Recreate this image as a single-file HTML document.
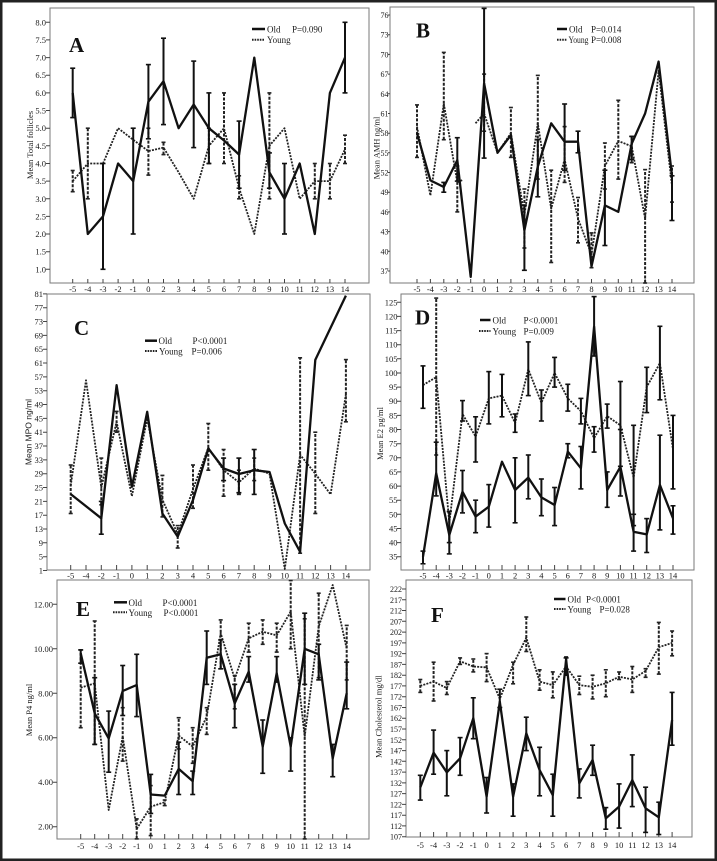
<!DOCTYPE html>
<html><head><meta charset="utf-8"><style>
html,body{margin:0;padding:0;background:#fff}
svg{display:block}
text{font-family:"Liberation Serif",serif;fill:#1a1a1a}
.t{font-size:8.5px}
.ya{text-anchor:end}
.xa{text-anchor:middle}
.lg{font-size:9px}
.L{font-size:21px;font-weight:bold;fill:#111}
.ti{font-size:8.5px;text-anchor:middle}
.fr{fill:none;stroke:#7a7a7a;stroke-width:1}
.tk{fill:none;stroke:#444;stroke-width:1}
.o{fill:none;stroke:#111;stroke-width:2.3;stroke-linejoin:round}
.y{fill:none;stroke:#222;stroke-width:1.8;stroke-dasharray:2 1.2;stroke-linejoin:round}
.oe{fill:none;stroke:#111;stroke-width:2;marker-start:url(#c);marker-mid:url(#c);marker-end:url(#c)}
.ye{fill:none;stroke:#222;stroke-width:2;stroke-dasharray:3 1.5;marker-start:url(#c2);marker-mid:url(#c2);marker-end:url(#c2)}
.ys{fill:none;stroke:#111;stroke-width:2;marker-start:url(#c);marker-mid:url(#c);marker-end:url(#c)}
</style></head><body>
<svg width="717" height="861" viewBox="0 0 717 861" xmlns="http://www.w3.org/2000/svg">
<defs>
<marker id="c" markerWidth="6" markerHeight="4" refX="3" refY="2" markerUnits="userSpaceOnUse" orient="0"><path d="M0.5,2H5.5" stroke="#111" stroke-width="1.6"/></marker>
<marker id="c2" markerWidth="6" markerHeight="4" refX="3" refY="2" markerUnits="userSpaceOnUse" orient="0"><path d="M1,2H5" stroke="#222" stroke-width="1.6"/></marker>
</defs>
<rect x="0" y="0" width="717" height="861" fill="#fff"/>
<rect x="1.25" y="1.25" width="714.5" height="858.5" fill="none" stroke="#222" stroke-width="2.5"/>

<!-- ================= PANEL A ================= -->
<rect class="fr" x="50" y="8" width="319" height="275"/>
<path class="tk" d="M46,22.3h4M46,39.9h4M46,57.6h4M46,75.2h4M46,92.9h4M46,110.5h4M46,128.2h4M46,145.8h4M46,163.5h4M46,181.1h4M46,198.8h4M46,216.4h4M46,234h4M46,251.7h4M46,269.3h4"/>
<path class="tk" d="M72.7,283v-4M87.8,283v-4M103,283v-4M118.1,283v-4M133.2,283v-4M148.4,283v-4M163.5,283v-4M178.6,283v-4M193.7,283v-4M208.9,283v-4M224,283v-4M239.1,283v-4M254.3,283v-4M269.4,283v-4M284.5,283v-4M299.7,283v-4M314.8,283v-4M329.9,283v-4M345,283v-4"/>
<g class="t ya">
<text x="46" y="25.3">8.0</text><text x="46" y="42.9">7.5</text><text x="46" y="60.6">7.0</text><text x="46" y="78.2">6.5</text><text x="46" y="95.9">6.0</text><text x="46" y="113.5">5.5</text><text x="46" y="131.2">5.0</text><text x="46" y="148.8">4.5</text><text x="46" y="166.5">4.0</text><text x="46" y="184.1">3.5</text><text x="46" y="201.8">3.0</text><text x="46" y="219.4">2.5</text><text x="46" y="237">2.0</text><text x="46" y="254.7">1.5</text><text x="46" y="272.3">1.0</text>
</g>
<g class="t xa">
<text x="72.7" y="292">-5</text><text x="87.8" y="292">-4</text><text x="103" y="292">-3</text><text x="118.1" y="292">-2</text><text x="133.2" y="292">-1</text><text x="148.4" y="292">0</text><text x="163.5" y="292">2</text><text x="178.6" y="292">3</text><text x="193.7" y="292">4</text><text x="208.9" y="292">5</text><text x="224" y="292">6</text><text x="239.1" y="292">7</text><text x="254.3" y="292">8</text><text x="269.4" y="292">9</text><text x="284.5" y="292">10</text><text x="299.7" y="292">11</text><text x="314.8" y="292">12</text><text x="329.9" y="292">13</text><text x="345" y="292">14</text>
</g>
<text class="ti" transform="translate(33,145) rotate(-90)">Mean Total follicles</text>
<text class="L" x="69" y="52">A</text>
<path d="M252,29H265" stroke="#111" stroke-width="2.5"/>
<path d="M252,39.7H265" stroke="#222" stroke-width="2" stroke-dasharray="1.6 1"/>
<text class="lg" x="267" y="32.5">Old</text><text class="lg" x="292" y="32.5">P=0.090</text>
<text class="lg" x="267" y="43">Young</text>
<path class="y" d="M72.7,181.1L87.8,163.5L103,163.5L118.1,128.2L133.2,139.8L148.4,151.1L163.5,147.6L178.6,172.3L193.7,198.8L208.9,145.8L224,128.2L239.1,188.2L254.3,234L269.4,145.8L284.5,128.2L299.7,198.8L314.8,181.1L329.9,181.1L345,149.3"/>
<path class="ye" d="M72.7,191.7V170.5M87.8,198.8V128.2M148.4,175.1V128.2M163.5,154.6V142.3M208.9,163.5V128.2M224,163.5V92.9M239.1,198.8V175.8M269.4,198.8V92.9M314.8,198.8V163.5M329.9,198.8V163.5M345,163.5V135.2"/>
<path class="o" d="M72.7,92.9L87.8,234L103,216.4L118.1,163.5L133.2,181.1L148.4,101.7L163.5,81.2L178.6,128.2L193.7,104.5L208.9,128.2L224,140.5L239.1,154.6L254.3,57.6L269.4,172.3L284.5,198.8L299.7,163.5L314.8,234L329.9,92.9L345,57.6"/>
<path class="oe" d="M72.7,117.6V68.2M103,269.3V163.5M133.2,234V128.2M148.4,138.8V64.6M163.5,124.6V38.2M193.7,147.6V61.1M208.9,163.5V92.9M239.1,188.2V121.1M269.4,188.2V152.9M284.5,234V163.5M345,92.9V22.3"/>

<!-- ================= PANEL B ================= -->
<rect class="fr" x="390" y="7" width="304" height="276"/>
<path class="tk" d="M388,15h2M388,34.7h2M388,54.4h2M388,74.1h2M388,93.8h2M388,113.5h2M388,133.2h2M388,152.8h2M388,172.5h2M388,192.2h2M388,211.9h2M388,231.6h2M388,251.3h2M388,271h2"/>
<path class="tk" d="M417,283v-4M430.4,283v-4M443.8,283v-4M457.3,283v-4M470.7,283v-4M484.1,283v-4M497.5,283v-4M510.9,283v-4M524.4,283v-4M537.8,283v-4M551.2,283v-4M564.6,283v-4M578,283v-4M591.5,283v-4M604.9,283v-4M618.3,283v-4M631.7,283v-4M645.1,283v-4M658.6,283v-4M672,283v-4"/>
<g class="t ya" style="font-size:8px">
<text x="388.5" y="18">76</text><text x="388.5" y="37.7">73</text><text x="388.5" y="57.4">70</text><text x="388.5" y="77.1">67</text><text x="388.5" y="96.8">64</text><text x="388.5" y="116.5">61</text><text x="388.5" y="136.2">58</text><text x="388.5" y="155.8">55</text><text x="388.5" y="175.5">52</text><text x="388.5" y="195.2">49</text><text x="388.5" y="214.9">46</text><text x="388.5" y="234.6">43</text><text x="388.5" y="254.3">40</text><text x="388.5" y="274">37</text>
</g>
<g class="t xa">
<text x="417" y="292">-5</text><text x="430.4" y="292">-4</text><text x="443.8" y="292">-3</text><text x="457.3" y="292">-2</text><text x="470.7" y="292">-1</text><text x="484.1" y="292">0</text><text x="497.5" y="292">1</text><text x="510.9" y="292">2</text><text x="524.4" y="292">3</text><text x="537.8" y="292">4</text><text x="551.2" y="292">5</text><text x="564.6" y="292">6</text><text x="578" y="292">7</text><text x="591.5" y="292">8</text><text x="604.9" y="292">9</text><text x="618.3" y="292">10</text><text x="631.7" y="292">11</text><text x="645.1" y="292">12</text><text x="658.6" y="292">13</text><text x="672" y="292">14</text>
</g>
<text class="ti" transform="translate(379.5,148) rotate(-90)">Mean AMH ng/ml</text>
<text class="L" x="416" y="37.5">B</text>
<path d="M557,29H567" stroke="#111" stroke-width="2.5"/>
<path d="M557,39.7H567" stroke="#222" stroke-width="2" stroke-dasharray="1.6 1"/>
<text class="lg" x="569" y="32.5">Old</text><text class="lg" x="591" y="32.5">P=0.014</text>
<text class="lg" x="568.5" y="43" textLength="20" lengthAdjust="spacingAndGlyphs">Young</text><text class="lg" x="591" y="43">P=0.008</text>
<path class="y" d="M417,126.6L430.4,195.5L443.8,103.6L457.3,182.4L462.5,180M475.5,123.3L484.1,113.5L497.5,152.8L510.9,133.2L524.4,215.2L537.8,123.3L551.2,208.6L564.6,159.4L578,218.5L591.5,254.6L604.9,166L618.3,141L631.7,146.3L645.1,218.5L658.6,70.8L672,185.7"/>
<path class="ye" d="M417,157.4V104.9M443.8,139.7V52.4M457.3,211.9V166M484.1,131.2V74.1M510.9,157.4V107.5M524.4,248V189M537.8,179.1V75.4M551.2,262.5V170.2M564.6,182.4V126.6M578,242.8V197.5M591.5,267.7V232.9M604.9,189V143M618.3,179.1V100.3M631.7,162.7V136.4M645.1,283V169.6M672,202.1V166"/>
<path class="o" d="M417,133.2L430.4,180.4L443.8,187L457.3,160.1L470.7,276.9L484.1,83.3L497.5,152.8L510.9,135.1L524.4,230.3L537.8,166.6L551.2,123.3L564.6,141.7L578,141.7L591.5,266.4L604.9,205.4L618.3,211.9L631.7,143.7L645.1,113.5L658.6,61.6L672,175.8"/>
<path class="oe" d="M443.8,192.2V182.4M457.3,181.1V137.7M484.1,158.1V8.4M524.4,270.3V205M537.8,196.8V139.7M564.6,170.2V104M578,152.8V131.2M604.9,245.5V170.2M631.7,159.4V136.4M672,220.5V175.8"/>

<!-- ================= PANEL C ================= -->
<rect class="fr" x="47" y="294" width="323" height="276"/>
<path class="tk" d="M43,293.9h4M43,307.7h4M43,321.5h4M43,335.4h4M43,349.2h4M43,363h4M43,376.9h4M43,390.7h4M43,404.5h4M43,418.4h4M43,432.2h4M43,446h4M43,459.9h4M43,473.7h4M43,487.5h4M43,501.4h4M43,515.2h4M43,529h4M43,542.8h4M43,556.7h4M43,570.5h4"/>
<path class="tk" d="M70.7,570v-5M86,570v-5M101.3,570v-5M116.6,570v-5M131.9,570v-5M147.2,570v-5M162.4,570v-5M177.7,570v-5M193,570v-5M208.3,570v-5M223.6,570v-5M238.9,570v-5M254.2,570v-5M269.5,570v-5M284.8,570v-5M300.1,570v-5M315.3,570v-5M330.6,570v-5M345.9,570v-5"/>
<g class="t ya">
<text x="43" y="297">81</text><text x="43" y="310.7">77</text><text x="43" y="324.5">73</text><text x="43" y="338.4">69</text><text x="43" y="352.2">65</text><text x="43" y="366">61</text><text x="43" y="379.9">57</text><text x="43" y="393.7">53</text><text x="43" y="407.5">49</text><text x="43" y="421.4">45</text><text x="43" y="435.2">41</text><text x="43" y="449">37</text><text x="43" y="462.9">33</text><text x="43" y="476.7">29</text><text x="43" y="490.5">25</text><text x="43" y="504.4">21</text><text x="43" y="518.2">17</text><text x="43" y="532">13</text><text x="43" y="545.8">9</text><text x="43" y="559.7">5</text><text x="43" y="573.5">1</text>
</g>
<g class="t xa">
<text x="70.7" y="578.5">-5</text><text x="86" y="578.5">-4</text><text x="101.3" y="578.5">-2</text><text x="116.6" y="578.5">-1</text><text x="131.9" y="578.5">0</text><text x="147.2" y="578.5">1</text><text x="162.4" y="578.5">2</text><text x="177.7" y="578.5">3</text><text x="193" y="578.5">4</text><text x="208.3" y="578.5">5</text><text x="223.6" y="578.5">6</text><text x="238.9" y="578.5">7</text><text x="254.2" y="578.5">8</text><text x="269.5" y="578.5">9</text><text x="284.8" y="578.5">10</text><text x="300.1" y="578.5">11</text><text x="315.3" y="578.5">12</text><text x="330.6" y="578.5">13</text><text x="345.9" y="578.5">14</text>
</g>
<text transform="translate(31.5,432) rotate(-90)" style="font-family:'Liberation Sans',sans-serif;font-size:8.5px;text-anchor:middle">Mean MPO ng/ml</text>
<text class="L" x="74" y="335">C</text>
<path d="M145,340.7H157" stroke="#111" stroke-width="2.5"/>
<path d="M145,351H157" stroke="#222" stroke-width="2" stroke-dasharray="1.6 1"/>
<text class="lg" x="158.5" y="344">Old</text><text class="lg" x="192.5" y="344">P&lt;0.0001</text>
<text class="lg" x="159" y="354.5">Young</text><text class="lg" x="191.5" y="354.5">P=0.006</text>
<path class="y" d="M70.7,485.8L86,380.3L101.3,487.5L116.6,421.8L131.9,496.2L147.2,418.4L162.4,499.6L177.7,534.2L193,489.2L208.3,447.7L223.6,470.2L238.9,482.3L254.2,468.5L269.5,473.7L284.8,568.8L300.1,454.7L315.3,473.7L330.6,494.4L345.9,394.2"/>
<path class="ye" d="M70.7,513.5V465M101.3,504.8V458.1M116.6,432.2V411.4M162.4,516.9V475.4M177.7,548V525.6M193,508.3V465M208.3,470.2V423.5M223.6,496.2V449.5M238.9,494.4V470.2M254.2,480.6V458.1M300.1,553.2V357.8M315.3,513.5V432.2M345.9,421.8V359.6"/>
<path class="o" d="M70.7,494.1L101.3,518.3L116.6,385.2L131.9,486.8L147.2,411.8L162.4,513.5L177.7,536.6L193,500L208.3,448.4L223.6,468.5L238.9,474L254.2,470.2L269.5,472L284.8,523.5L300.1,551.8L315.3,359.9L345.9,295.6"/>
<path class="oe" d="M101.3,534.2V501.4M223.6,480.6V458.1M238.9,492.7V458.1M254.2,494.4V449.5"/>

<!-- ================= PANEL D ================= -->
<rect class="fr" x="401" y="294" width="293" height="276"/>
<path class="tk" d="M397,302.3h4M397,316.4h4M397,330.6h4M397,344.7h4M397,358.8h4M397,373h4M397,387.1h4M397,401.2h4M397,415.4h4M397,429.5h4M397,443.7h4M397,457.8h4M397,471.9h4M397,486.1h4M397,500.2h4M397,514.3h4M397,528.5h4M397,542.6h4M397,556.7h4"/>
<path class="tk" d="M423,570v-5M436.2,570v-5M449.3,570v-5M462.5,570v-5M475.6,570v-5M488.8,570v-5M502,570v-5M515.1,570v-5M528.3,570v-5M541.4,570v-5M554.6,570v-5M567.8,570v-5M580.9,570v-5M594.1,570v-5M607.2,570v-5M620.4,570v-5M633.6,570v-5M646.7,570v-5M659.9,570v-5M673,570v-5"/>
<g class="t ya">
<text x="397.5" y="305.3">125</text><text x="397.5" y="319.4">120</text><text x="397.5" y="333.6">115</text><text x="397.5" y="347.7">110</text><text x="397.5" y="361.8">105</text><text x="397.5" y="376">100</text><text x="397.5" y="390.1">95</text><text x="397.5" y="404.2">90</text><text x="397.5" y="418.4">85</text><text x="397.5" y="432.5">80</text><text x="397.5" y="446.7">75</text><text x="397.5" y="460.8">70</text><text x="397.5" y="474.9">65</text><text x="397.5" y="489.1">60</text><text x="397.5" y="503.2">55</text><text x="397.5" y="517.3">50</text><text x="397.5" y="531.5">45</text><text x="397.5" y="545.6">40</text><text x="397.5" y="559.7">35</text>
</g>
<g class="t xa">
<text x="423" y="578.5">-5</text><text x="436.2" y="578.5">-4</text><text x="449.3" y="578.5">-3</text><text x="462.5" y="578.5">-2</text><text x="475.6" y="578.5">-1</text><text x="488.8" y="578.5">0</text><text x="502" y="578.5">1</text><text x="515.1" y="578.5">2</text><text x="528.3" y="578.5">3</text><text x="541.4" y="578.5">4</text><text x="554.6" y="578.5">5</text><text x="567.8" y="578.5">6</text><text x="580.9" y="578.5">7</text><text x="594.1" y="578.5">8</text><text x="607.2" y="578.5">9</text><text x="620.4" y="578.5">10</text><text x="633.6" y="578.5">11</text><text x="646.7" y="578.5">12</text><text x="659.9" y="578.5">13</text><text x="673" y="578.5">14</text>
</g>
<text class="ti" transform="translate(383,433.5) rotate(-90)">Mean E2 pg/ml</text>
<text class="L" x="415" y="324.5">D</text>
<path d="M480,320H490.5" stroke="#111" stroke-width="2.5"/>
<path d="M479,331H490.5" stroke="#222" stroke-width="2" stroke-dasharray="1.6 1"/>
<text class="lg" x="492.5" y="323.5">Old</text><text class="lg" x="523.5" y="323.5">P&lt;0.0001</text>
<text class="lg" x="492.5" y="334.5">Young</text><text class="lg" x="523.5" y="334.5">P=0.009</text>
<path class="y" d="M423,385.1L436.2,377.2L449.3,522.8L462.5,414L475.6,436.6L488.8,398.4L502,395.6L515.1,423L528.3,369.3L541.4,402.7L554.6,373L567.8,398.4L580.9,411.1L594.1,438L607.2,416.2L620.4,425.3L633.6,477.6L646.7,387.1L659.9,363.1L673,449.3"/>
<path class="ye" d="M436.2,455V298.1"/>
<path class="ys" d="M423,408.3V365.9M449.3,542.6V511.5M462.5,421V400.6M475.6,462V416.8M488.8,423.9V371.6M502,416.8V374.4M515.1,432.3V414M528.3,395.6V341.9M541.4,421V390M554.6,387.1V357.4M567.8,411.1V384.3M580.9,423.9V398.4M594.1,452.1V426.7M607.2,428.1V404.1M620.4,466.3V381.5M633.6,525.6V425.3M646.7,412.6V367.3M659.9,399.8V326.3M673,488.9V415.4"/>
<path class="o" d="M423,556.7L436.2,473.3L449.3,535L462.5,491.7L475.6,516.6L488.8,506.7L502,461.7L515.1,490L528.3,477.6L541.4,497.4L554.6,505L567.8,451.6L580.9,468.2L594.1,326.6L607.2,490L620.4,466.8L633.6,531.8L646.7,534.4L659.9,484.9L673,518.3"/>
<path class="oe" d="M423,563.8V551.1M436.2,495.9V442.2M449.3,553.9V511.5M462.5,512.9V470.5M475.6,532.7V500.2M488.8,527.1V484.6M515.1,522.8V457.8M528.3,498.8V455M541.4,515.7V479M554.6,525.6V487.5M567.8,457.8V443.7M580.9,488.9V446.5M594.1,356V296.6M607.2,507.3V471.9M620.4,496V429.5M633.6,551.1V514.3M646.7,552.5V518.6M659.9,529.9V435.2M673,534.1V505.8"/>

<!-- ================= PANEL E ================= -->
<rect class="fr" x="57" y="580" width="312" height="259"/>
<path class="tk" d="M53,604.3h4M53,648.8h4M53,693.3h4M53,737.7h4M53,782.2h4M53,826.7h4"/>
<path class="tk" d="M80.7,839v-5M94.7,839v-5M108.7,839v-5M122.7,839v-5M136.7,839v-5M150.7,839v-5M164.7,839v-5M178.7,839v-5M192.7,839v-5M206.7,839v-5M220.7,839v-5M234.7,839v-5M248.7,839v-5M262.7,839v-5M276.7,839v-5M290.7,839v-5M304.7,839v-5M318.7,839v-5M332.7,839v-5M346.7,839v-5"/>
<g class="t ya">
<text x="53" y="607.3">12.00</text><text x="53" y="651.8">10.00</text><text x="53" y="696.3">8.00</text><text x="53" y="740.7">6.00</text><text x="53" y="785.2">4.00</text><text x="53" y="829.7">2.00</text>
</g>
<g class="t xa">
<text x="80.7" y="849">-5</text><text x="94.7" y="849">-4</text><text x="108.7" y="849">-3</text><text x="122.7" y="849">-2</text><text x="136.7" y="849">-1</text><text x="150.7" y="849">0</text><text x="164.7" y="849">1</text><text x="178.7" y="849">2</text><text x="192.7" y="849">3</text><text x="206.7" y="849">4</text><text x="220.7" y="849">5</text><text x="234.7" y="849">6</text><text x="248.7" y="849">7</text><text x="262.7" y="849">8</text><text x="276.7" y="849">9</text><text x="290.7" y="849">10</text><text x="304.7" y="849">11</text><text x="318.7" y="849">12</text><text x="332.7" y="849">13</text><text x="346.7" y="849">14</text>
</g>
<text class="ti" transform="translate(32,710) rotate(-90)">Mean P4 ng/ml</text>
<text class="L" x="76" y="616">E</text>
<path d="M114,602.3H127" stroke="#111" stroke-width="2.5"/>
<path d="M113,612.3H127" stroke="#222" stroke-width="2" stroke-dasharray="1.6 1"/>
<text class="lg" x="128.5" y="605.8">Old</text><text class="lg" x="162.5" y="605.8">P&lt;0.0001</text>
<text class="lg" x="128.5" y="615.8">Young</text><text class="lg" x="163.5" y="615.8">P&lt;0.0001</text>
<path class="y" d="M80.7,687.7L94.7,683.3L108.7,810L122.7,736.6L136.7,828.9L150.7,806.7L164.7,802.2L178.7,735.5L192.7,746.6L206.7,716.6L220.7,633.2L234.7,678.8L248.7,638.3L262.7,631.7L276.7,635.4L290.7,611.6L304.7,736.6L318.7,626.5L332.7,585L346.7,648.8"/>
<path class="ye" d="M80.7,727.7V649.9M94.7,744.4V621M122.7,761.1V707.7M136.7,838.9V818.9M150.7,835.6V785.6M164.7,805.6V800M178.7,748.9V717.7M192.7,763.3V727.7M206.7,734.4V707.7M220.7,668.8V619.9M234.7,708.8V675.5M248.7,652.1V623.2M262.7,644.3V619.9M276.7,652.1V623.2M290.7,648.8V580.5M304.7,838.9V618.8M318.7,677.7V593.2M346.7,679.9V625.4"/>
<path class="o" d="M80.7,653.2L94.7,713.3L108.7,738.4L122.7,691L136.7,685L150.7,794.5L164.7,795.6L178.7,768.9L192.7,781.1L206.7,657.7L220.7,654.3L234.7,703.3L248.7,671.7L262.7,746.6L276.7,673.2L290.7,746.6L304.7,648.8L318.7,654.3L332.7,758.4L346.7,693.3"/>
<path class="oe" d="M80.7,663.2V649.9M94.7,744.4V677.7M108.7,772.2V711.1M122.7,715.5V665.5M136.7,716.6V654.3M150.7,813.4V774.4M178.7,794.5V742.2M192.7,794.5V771.1M206.7,684.4V631M220.7,668.8V639.9M234.7,727.7V684.4M248.7,682.1V656.6M262.7,773.3V720M276.7,682.1V656.6M290.7,771.1V737.7M304.7,684.4V613.2M318.7,679.9V644.3M332.7,776.7V744.4M346.7,708.8V662.1"/>

<!-- ================= PANEL F ================= -->
<rect class="fr" x="406" y="580" width="286" height="257"/>
<path class="tk" d="M402,589h4M402,599.8h4M402,610.5h4M402,621.3h4M402,632.1h4M402,642.9h4M402,653.6h4M402,664.4h4M402,675.2h4M402,685.9h4M402,696.7h4M402,707.5h4M402,718.2h4M402,729h4M402,739.8h4M402,750.6h4M402,761.3h4M402,772.1h4M402,782.9h4M402,793.6h4M402,804.4h4M402,815.2h4M402,825.9h4M402,836.7h4"/>
<path class="tk" d="M420.3,837v-5M433.6,837v-5M446.8,837v-5M460.1,837v-5M473.3,837v-5M486.6,837v-5M499.8,837v-5M513.1,837v-5M526.3,837v-5M539.6,837v-5M552.8,837v-5M566.1,837v-5M579.3,837v-5M592.6,837v-5M605.8,837v-5M619.1,837v-5M632.3,837v-5M645.6,837v-5M658.8,837v-5M672.1,837v-5"/>
<g class="t ya" style="font-size:8px">
<text x="402" y="592">222</text><text x="402" y="602.8">217</text><text x="402" y="613.5">212</text><text x="402" y="624.3">207</text><text x="402" y="635.1">202</text><text x="402" y="645.9">197</text><text x="402" y="656.6">192</text><text x="402" y="667.4">187</text><text x="402" y="678.2">182</text><text x="402" y="688.9">177</text><text x="402" y="699.7">172</text><text x="402" y="710.5">167</text><text x="402" y="721.2">162</text><text x="402" y="732">157</text><text x="402" y="742.8">152</text><text x="402" y="753.6">147</text><text x="402" y="764.3">142</text><text x="402" y="775.1">137</text><text x="402" y="785.9">132</text><text x="402" y="796.6">127</text><text x="402" y="807.4">122</text><text x="402" y="818.2">117</text><text x="402" y="828.9">112</text><text x="402" y="839.7">107</text>
</g>
<g class="t xa">
<text x="420.3" y="848">-5</text><text x="433.6" y="848">-4</text><text x="446.8" y="848">-3</text><text x="460.1" y="848">-2</text><text x="473.3" y="848">-1</text><text x="486.6" y="848">0</text><text x="499.8" y="848">1</text><text x="513.1" y="848">2</text><text x="526.3" y="848">3</text><text x="539.6" y="848">4</text><text x="552.8" y="848">5</text><text x="566.1" y="848">6</text><text x="579.3" y="848">7</text><text x="592.6" y="848">8</text><text x="605.8" y="848">9</text><text x="619.1" y="848">10</text><text x="632.3" y="848">11</text><text x="645.6" y="848">12</text><text x="658.8" y="848">13</text><text x="672.1" y="848">14</text>
</g>
<text class="ti" transform="translate(381.5,716.7) rotate(-90)">Mean Cholesterol  mg/dl</text>
<text class="L" x="431" y="622">F</text>
<path d="M554,599H565.5" stroke="#111" stroke-width="2.5"/>
<path d="M554,609H565.5" stroke="#222" stroke-width="2" stroke-dasharray="1.6 1"/>
<text class="lg" x="567.5" y="602.5">Old</text><text class="lg" x="586" y="602.5">P&lt;0.0001</text>
<text class="lg" x="567.5" y="612.5">Young</text><text class="lg" x="599.5" y="612.5">P=0.028</text>
<path class="y" d="M420.3,685.9L433.6,681.6L446.8,688.1L460.1,661.2L473.3,666.5L486.6,667.4L499.8,698.9L513.1,664.8L526.3,637.7L539.6,681.6L552.8,685.1L566.1,666.5L579.3,685.1L592.6,686.8L605.8,683.3L619.1,676.7L632.3,679.5L645.6,670.9L658.8,647.2L672.1,642.9"/>
<path class="ye" d="M420.3,692.4V679.5M433.6,701V662.2M446.8,694.5V681.6M460.1,664.4V657.9M473.3,671.9V659M486.6,681.6V653.6M513.1,683.8V662.2M526.3,651.5V617M539.6,690.2V669.8M552.8,697.8V671.9M566.1,673V656.9M579.3,694.5V676.2M592.6,698.9V675.2M605.8,696.7V669.8M619.1,679.5V672M632.3,692.4V666.5M645.6,677.3V668.7M658.8,674.1V622.4M672.1,655.8V631"/>
<path class="o" d="M420.3,787.4L433.6,752.7L446.8,772.3L460.1,758.3L473.3,718.2L486.6,796.6L499.8,701.7L513.1,796.6L526.3,733.3L539.6,770L552.8,795.1L566.1,659.4L579.3,783.3L592.6,760L605.8,818.4L619.1,806.6L632.3,780.1L645.6,808.3L658.8,817.3L672.1,720"/>
<path class="oe" d="M420.3,800.1V775.3M433.6,774.2V730.1M446.8,795.8V750.6M460.1,775.3V737.6M473.3,738.7V697.8M486.6,813V777.5M499.8,707.5V689.2M513.1,816.2V783.9M526.3,750.6V717.2M539.6,795.8V747.3M552.8,816.2V774.2M566.1,675.2V657.9M579.3,797.9V768.9M592.6,775.3V745.2M605.8,829.2V807.6M619.1,828.1V783.9M632.3,806.6V754.9M645.6,832.4V787.2M658.8,834.5V802.2M672.1,745.2V692.4"/>
</svg>
</body></html>
